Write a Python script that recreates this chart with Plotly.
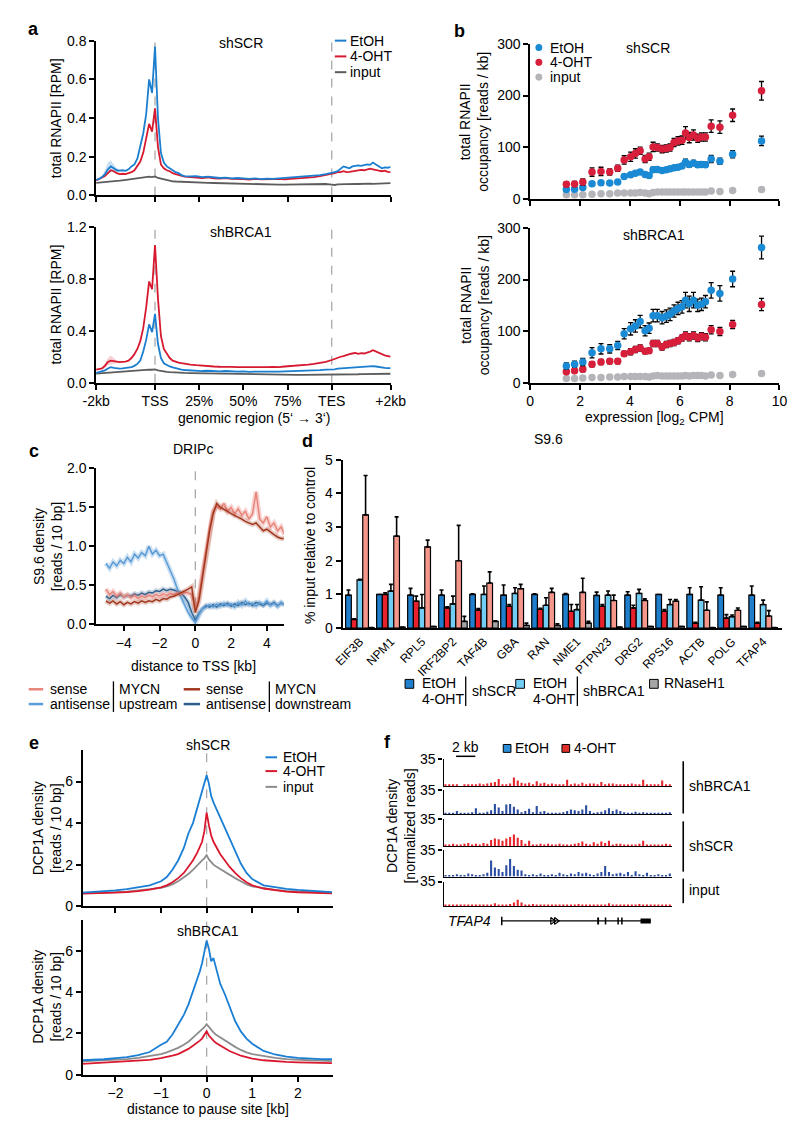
import plotly.graph_objects as go

W, H = 800, 1124
FONT = "Liberation Sans, Arial, Helvetica, sans-serif"
FS = 14

# ================= DATA =================
# ---- panel a: RNAPII metagene (x: -2kb=0, TSS=20, TES=80, +2kb=100)
a_x = list(range(0, 31)) + list(range(32, 79, 2)) + list(range(80, 101))
a_tickvals = [0, 20, 35, 50, 65, 80, 100]
a_ticktext = ["-2kb", "TSS", "25%", "50%", "75%", "TES", "+2kb"]
a_marks = [20, 80]
a_scr_etoh = [0.080, 0.085, 0.095, 0.11, 0.135, 0.15, 0.14, 0.13, 0.128, 0.13,
              0.127, 0.135, 0.15, 0.16, 0.19, 0.25, 0.32, 0.42, 0.60, 0.53,
              0.77, 0.40, 0.22, 0.17, 0.15, 0.14, 0.13, 0.12, 0.115, 0.105, 0.10,
              0.098, 0.10, 0.095, 0.097, 0.093, 0.09, 0.092, 0.088, 0.09, 0.087, 0.085, 0.088,
              0.084, 0.086, 0.085, 0.088, 0.09, 0.092, 0.095, 0.097, 0.10, 0.102, 0.105, 0.11,
              0.115, 0.12, 0.125, 0.14, 0.15, 0.145, 0.14, 0.15, 0.152, 0.155, 0.153,
              0.157, 0.16, 0.158, 0.17, 0.16, 0.15, 0.14, 0.145, 0.143, 0.148]
a_scr_4oht = [0.078, 0.085, 0.09, 0.10, 0.115, 0.13, 0.125, 0.115, 0.11, 0.112,
              0.11, 0.115, 0.12, 0.13, 0.15, 0.175, 0.22, 0.29, 0.37, 0.33,
              0.45, 0.25, 0.16, 0.14, 0.13, 0.125, 0.115, 0.11, 0.105, 0.1, 0.097,
              0.095, 0.092, 0.09, 0.093, 0.088, 0.087, 0.09, 0.085, 0.086, 0.084, 0.082, 0.085,
              0.083, 0.082, 0.084, 0.085, 0.083, 0.086, 0.088, 0.09, 0.092, 0.095, 0.1, 0.105,
              0.11, 0.115, 0.12, 0.12, 0.125, 0.12, 0.122, 0.125, 0.128, 0.13, 0.132,
              0.13, 0.135, 0.138, 0.135, 0.13, 0.128, 0.125, 0.128, 0.122, 0.12]
a_scr_input = [0.065, 0.066, 0.067, 0.068, 0.07, 0.071, 0.072, 0.074, 0.076, 0.078,
               0.08, 0.082, 0.085, 0.088, 0.09, 0.093, 0.095, 0.096, 0.097, 0.095,
               0.098, 0.09, 0.086, 0.082, 0.078, 0.075, 0.073, 0.072, 0.071, 0.07, 0.069,
               0.068, 0.067, 0.066, 0.065, 0.064, 0.063, 0.062, 0.061, 0.06, 0.06, 0.059, 0.058,
               0.058, 0.057, 0.057, 0.056, 0.056, 0.057, 0.057, 0.058, 0.058, 0.059, 0.058, 0.059,
               0.056, 0.054, 0.057, 0.058, 0.058, 0.059, 0.058, 0.059, 0.06, 0.059, 0.06,
               0.06, 0.06, 0.061, 0.06, 0.061, 0.062, 0.062, 0.063, 0.063, 0.064]
a_brca_etoh = [0.075, 0.08, 0.085, 0.095, 0.11, 0.12, 0.115, 0.11, 0.108, 0.11,
               0.112, 0.115, 0.12, 0.13, 0.145, 0.17, 0.24, 0.33, 0.45, 0.39,
               0.53, 0.30, 0.19, 0.15, 0.135, 0.125, 0.118, 0.11, 0.105, 0.1, 0.098,
               0.095, 0.093, 0.09, 0.092, 0.088, 0.087, 0.09, 0.086, 0.085, 0.088, 0.084, 0.086,
               0.085, 0.083, 0.086, 0.085, 0.087, 0.088, 0.09, 0.092, 0.093, 0.095, 0.097, 0.1,
               0.1, 0.103, 0.108, 0.11, 0.112, 0.11, 0.113, 0.115, 0.118, 0.12, 0.122,
               0.125, 0.128, 0.13, 0.128, 0.125, 0.12, 0.118, 0.115, 0.113, 0.112]
a_brca_4oht = [0.10, 0.105, 0.11, 0.13, 0.16, 0.17, 0.165, 0.16, 0.158, 0.16,
               0.162, 0.17, 0.19, 0.22, 0.26, 0.32, 0.42, 0.58, 0.78, 0.72,
               1.06, 0.65, 0.36, 0.26, 0.22, 0.19, 0.17, 0.16, 0.155, 0.15, 0.145,
               0.14, 0.135, 0.13, 0.128, 0.125, 0.123, 0.12, 0.122, 0.12, 0.118, 0.12, 0.12,
               0.118, 0.12, 0.122, 0.12, 0.125, 0.128, 0.13, 0.135, 0.14, 0.145, 0.15, 0.16,
               0.175, 0.185, 0.19, 0.2, 0.205, 0.215, 0.22, 0.225, 0.23, 0.222, 0.228,
               0.225, 0.23, 0.24, 0.25, 0.24, 0.225, 0.215, 0.21, 0.205, 0.2]
a_brca_input = [0.07, 0.072, 0.074, 0.076, 0.078, 0.08, 0.082, 0.084, 0.085, 0.087,
                0.088, 0.09, 0.092, 0.094, 0.096, 0.098, 0.099, 0.1, 0.101, 0.1,
                0.102, 0.095, 0.09, 0.087, 0.084, 0.082, 0.08, 0.078, 0.077, 0.076, 0.075,
                0.074, 0.073, 0.072, 0.071, 0.07, 0.069, 0.068, 0.067, 0.066, 0.066, 0.065, 0.064,
                0.064, 0.063, 0.063, 0.062, 0.062, 0.062, 0.061, 0.061, 0.061, 0.06, 0.06, 0.061,
                0.06, 0.061, 0.062, 0.062, 0.063, 0.063, 0.064, 0.064, 0.065, 0.065, 0.066,
                0.066, 0.066, 0.067, 0.067, 0.067, 0.068, 0.068, 0.068, 0.069, 0.069]
a_band_x = [2, 3, 4, 5, 6, 7, 8]
a_scr_etoh_hi = [0.10, 0.13, 0.17, 0.18, 0.16, 0.14, 0.135]
a_scr_etoh_lo = [0.09, 0.10, 0.11, 0.12, 0.12, 0.12, 0.12]
a_brca_4oht_hi = [0.12, 0.15, 0.19, 0.21, 0.19, 0.17, 0.165]
a_brca_4oht_lo = [0.10, 0.115, 0.135, 0.14, 0.145, 0.15, 0.152]

# ---- panel b: occupancy vs expression
b_x = [1.45, 1.78, 2.11, 2.48, 2.84, 3.19, 3.51, 3.77, 4.03, 4.22, 4.41, 4.61, 4.77, 4.93, 5.10,
       5.29, 5.46, 5.61, 5.77, 5.93, 6.09, 6.23, 6.38, 6.55, 6.72, 6.87, 7.03, 7.26, 7.61, 8.12, 9.28]
b_scr_4oht = [29, 29.5, 33.5, 52.5, 53.8, 52.5, 60, 76, 82, 88.5, 93.6, 77.8, 82, 101, 100,
              96.8, 98, 100, 109.4, 112.6, 114, 128, 119, 124, 117.6, 120, 120, 141, 139, 162, 209]
b_scr_etoh = [19, 19.6, 22.8, 30, 32, 31.5, 33.5, 44, 47.4, 50.5, 52.5, 48, 46, 57, 57.6,
              55.7, 57, 59, 61, 62, 64, 71.5, 67, 69.8, 66.6, 67, 66.6, 77.8, 73.3, 87, 112.6]
b_scr_input = [9, 9, 9, 10, 11, 11, 12, 12, 12, 12, 13, 12, 11, 13, 14,
               14, 14, 14, 14, 14, 14, 14, 14, 14, 14, 14, 14, 16, 15, 17, 19]
b_brca_etoh = [32.5, 35.7, 40, 58, 65.6, 65.6, 72, 95, 104.5, 110, 118.5, 100.7, 105.7, 130, 130,
               126, 129, 132.5, 139, 144, 147, 160, 153, 160, 150, 152, 157, 179, 173, 201, 262]
b_brca_4oht = [21, 23, 26, 35.7, 40, 41.4, 41.4, 56, 59.9, 64.5, 67.5, 61, 62, 75.8, 75.8,
               69.4, 74, 75.8, 78, 81.5, 86.6, 91.7, 88, 91.7, 86.6, 90, 88, 102.6, 99.4, 113, 151.6]
b_brca_input = [8, 8, 9, 10, 10, 11, 11, 12, 12, 12, 12, 12, 11, 13, 14,
                13, 13, 13, 13, 13, 13, 14, 13, 14, 14, 14, 13, 15, 14, 16, 18]
b_scr_4oht_err = [5, 5, 6, 8, 8, 6, 6, 8, 9, 9, 7, 7, 7, 9, 7, 7, 7, 7, 8, 8, 8, 12, 10, 10, 8, 8, 8, 12, 12, 12, 18]
b_scr_etoh_err = [3, 3, 4, 4, 4, 3, 3, 4, 4, 4, 4, 4, 4, 5, 4, 4, 4, 4, 4, 4, 4, 6, 5, 5, 5, 5, 5, 7, 6, 7, 9]
b_brca_etoh_err = [6, 6, 7, 10, 10, 8, 8, 10, 12, 12, 12, 10, 10, 12, 12, 12, 12, 12, 12, 12, 12, 15, 15, 15, 12, 12, 12, 15, 15, 15, 22]
b_brca_4oht_err = [4, 4, 5, 5, 5, 5, 5, 5, 6, 6, 6, 5, 5, 6, 6, 6, 6, 6, 6, 6, 6, 7, 7, 7, 7, 7, 7, 8, 8, 8, 12]

# ---- panel c: DRIPc (x in kb, step 0.2 from -5 to 5)
c_x = [round(-5 + 0.2 * i, 1) for i in range(51)]
c_as_up = [0.78, 0.72, 0.80, 0.75, 0.82, 0.78, 0.86, 0.80, 0.90, 0.85,
           0.92, 0.88, 1.00, 0.90, 0.95, 0.88, 0.90, 0.80, 0.70, 0.58,
           0.45, 0.35, 0.25, 0.15, 0.08, 0.02, 0.12, 0.20, 0.22, 0.25,
           0.22, 0.26, 0.23, 0.27, 0.24, 0.26, 0.22, 0.28, 0.24, 0.30,
           0.25, 0.27, 0.23, 0.28, 0.25, 0.30, 0.24, 0.27, 0.23, 0.28, 0.25]
c_as_down = [0.36, 0.33, 0.37, 0.34, 0.38, 0.35, 0.37, 0.36, 0.39, 0.37,
             0.40, 0.38, 0.41, 0.40, 0.43, 0.42, 0.45, 0.43, 0.45, 0.44,
             0.42, 0.40, 0.35, 0.28, 0.15, 0.05, 0.14, 0.20, 0.24, 0.22,
             0.25, 0.22, 0.26, 0.24, 0.27, 0.23, 0.26, 0.24, 0.28, 0.25,
             0.27, 0.24, 0.28, 0.26, 0.24, 0.27, 0.25, 0.28, 0.24, 0.27, 0.25]
c_s_up = [0.45, 0.38, 0.42, 0.36, 0.40, 0.35, 0.38, 0.34, 0.37, 0.33,
          0.36, 0.34, 0.37, 0.35, 0.38, 0.36, 0.39, 0.37, 0.40, 0.38,
          0.40, 0.39, 0.41, 0.40, 0.38, 0.20, 0.35, 0.65, 0.95, 1.25,
          1.45, 1.52, 1.48, 1.55, 1.45, 1.50, 1.42, 1.48, 1.40, 1.45,
          1.35, 1.42, 1.70, 1.35, 1.30, 1.38, 1.25, 1.30, 1.20, 1.25, 1.15]
c_s_down = [0.30, 0.27, 0.30, 0.26, 0.29, 0.25, 0.28, 0.26, 0.29, 0.27,
            0.30, 0.28, 0.30, 0.29, 0.32, 0.30, 0.33, 0.32, 0.35, 0.36,
            0.38, 0.40, 0.42, 0.45, 0.48, 0.15, 0.30, 0.60, 0.90, 1.20,
            1.42, 1.55, 1.50, 1.48, 1.45, 1.42, 1.40, 1.38, 1.35, 1.32,
            1.30, 1.28, 1.30, 1.25, 1.20, 1.22, 1.18, 1.15, 1.12, 1.10, 1.10]

# ---- panel d: S9.6 DRIP-qPCR
d_genes = ["EIF3B", "NPM1", "RPL5", "IRF2BP2", "TAF4B", "GBA", "RAN", "NME1",
           "PTPN23", "DRG2", "RPS16", "ACTB", "POLG", "TFAP4"]
d_scr_etoh = [0.98, 1.0, 0.98, 0.98, 1.0, 0.98, 1.0, 1.0, 0.97, 0.98, 1.0, 1.0, 0.98, 0.98]
d_scr_4oht = [0.26, 1.0, 0.8, 0.6, 0.53, 0.65, 0.56, 0.5, 0.65, 0.6, 0.5, 0.15, 0.3, 0.15]
d_brca_etoh = [1.43, 1.1, 0.6, 0.72, 1.0, 1.03, 0.68, 0.55, 0.98, 1.03, 0.7, 0.83, 0.34, 0.7]
d_brca_4oht = [3.36, 2.73, 2.41, 2.0, 1.34, 1.17, 1.06, 1.06, 0.82, 0.82, 0.8, 0.53, 0.53, 0.36]
d_rnaseh1 = [0.02, 0.03, 0.05, 0.2, 0.2, 0.08, 0.08, 0.15, 0.03, 0.05, 0.05, 0.02, 0.05, 0.02]
d_scr_etoh_err = [0.15, 0.0, 0.2, 0.15, 0.02, 0.3, 0.02, 0.03, 0.1, 0.1, 0.0, 0.2, 0.22, 0.27]
d_scr_4oht_err = [0.02, 0.05, 0.15, 0.03, 0.05, 0.05, 0.03, 0.2, 0.05, 0.08, 0.05, 0.02, 0.1, 0.02]
d_brca_etoh_err = [0.02, 0.2, 0.4, 0.23, 0.25, 0.17, 0.22, 0.15, 0.12, 0.12, 0.15, 0.4, 0.05, 0.13]
d_brca_4oht_err = [1.17, 0.57, 0.2, 1.05, 0.33, 0.13, 0.12, 0.42, 0.16, 0.05, 0.05, 0.25, 0.07, 0.16]
d_rnaseh1_err = [0.0, 0.0, 0.0, 0.15, 0.02, 0.07, 0.05, 0.05, 0.0, 0.0, 0.0, 0.0, 0.0, 0.0]

# ---- panel e: DCP1A around pause site
e_x = [-2.75, -2.5, -2.25, -2, -1.75, -1.5, -1.25, -1, -0.875, -0.75, -0.625, -0.5, -0.4, -0.3,
       -0.2, -0.15, -0.1, -0.05, 0, 0.05, 0.1, 0.15, 0.2, 0.3, 0.4, 0.5, 0.625, 0.75, 0.875, 1,
       1.25, 1.5, 1.75, 2, 2.25, 2.5, 2.75]
e_scr_etoh = [0.65, 0.68, 0.72, 0.76, 0.82, 0.9, 1.0, 1.2, 1.4, 1.75, 2.2, 2.8, 3.5, 4.0,
              4.8, 5.1, 5.5, 5.9, 6.3, 5.9, 5.3, 5.0, 4.75, 4.3, 3.8, 3.3, 2.6, 2.05, 1.6, 1.3,
              1.0, 0.9, 0.83, 0.78, 0.74, 0.7, 0.68]
e_scr_4oht = [0.6, 0.61, 0.63, 0.65, 0.68, 0.72, 0.8, 0.9, 1.0, 1.15, 1.35, 1.6, 1.9, 2.2,
              2.6, 2.85, 3.1, 3.6, 4.5, 3.9, 3.4, 3.1, 2.9, 2.5, 2.2, 1.9, 1.6, 1.35, 1.15, 1.0,
              0.85, 0.76, 0.7, 0.67, 0.65, 0.63, 0.62]
e_scr_input = [0.62, 0.63, 0.65, 0.68, 0.7, 0.75, 0.8, 0.88, 0.95, 1.05, 1.2, 1.38, 1.55, 1.75,
               2.0, 2.1, 2.2, 2.3, 2.45, 2.25, 2.1, 2.0, 1.92, 1.78, 1.65, 1.52, 1.35, 1.2, 1.05, 0.95,
               0.85, 0.78, 0.73, 0.7, 0.68, 0.66, 0.65]
e_brca_etoh = [0.7, 0.72, 0.75, 0.8, 0.85, 0.95, 1.1, 1.45, 1.6, 1.95, 2.4, 2.9, 3.4, 4.0,
               4.6, 5.0, 5.4, 5.9, 6.5, 6.1, 5.5, 5.65, 5.2, 4.4, 3.9, 3.3, 2.6, 2.1, 1.75, 1.5,
               1.15, 0.98, 0.88, 0.82, 0.78, 0.76, 0.75]
e_brca_4oht = [0.52, 0.55, 0.57, 0.6, 0.63, 0.67, 0.72, 0.8, 0.85, 0.92, 1.0, 1.12, 1.25, 1.4,
               1.55, 1.65, 1.75, 1.9, 2.1, 1.9, 1.75, 1.65, 1.55, 1.4, 1.28, 1.15, 1.02, 0.92, 0.85, 0.78,
               0.7, 0.65, 0.62, 0.6, 0.58, 0.57, 0.56]
e_brca_input = [0.65, 0.67, 0.69, 0.72, 0.76, 0.82, 0.9, 1.0, 1.08, 1.18, 1.3, 1.45, 1.6, 1.8,
                2.0, 2.1, 2.2, 2.3, 2.45, 2.3, 2.15, 2.05, 1.95, 1.8, 1.65, 1.52, 1.35, 1.2, 1.08, 1.0,
                0.9, 0.82, 0.76, 0.72, 0.7, 0.68, 0.66]

# ---- panel f: DCP1A tracks at TFAP4 (60 bins)
f_bins = [i + 0.5 for i in range(60)]
f_brca_4oht = [1, 2, 1, 1, 0, 2, 2, 1, 2, 3,
               2, 3, 4, 5, 9, 2, 1, 3, 11, 7,
               4, 3, 4, 2, 6, 3, 4, 2, 3, 1,
               2, 2, 8, 2, 3, 2, 4, 2, 3, 3,
               2, 5, 2, 3, 3, 1, 2, 2, 1, 3,
               2, 2, 8, 1, 2, 1, 1, 7, 1, 1]
f_brca_etoh = [1, 2, 1, 5, 1, 1, 2, 3, 9, 2,
               1, 4, 6, 15, 10, 5, 14, 15, 11, 7,
               3, 5, 8, 3, 12, 4, 5, 2, 1, 1,
               2, 3, 5, 7, 6, 5, 7, 13, 5, 2,
               3, 4, 6, 9, 5, 7, 5, 3, 1, 2,
               4, 2, 3, 1, 1, 2, 1, 1, 2, 3]
f_scr_4oht = [2, 1, 3, 2, 1, 3, 4, 2, 3, 2,
              4, 3, 8, 10, 9, 7, 10, 12, 15, 11,
              8, 3, 7, 2, 2, 3, 2, 3, 1, 2,
              3, 2, 1, 2, 3, 4, 6, 3, 2, 5,
              3, 6, 4, 7, 2, 3, 3, 2, 1, 2,
              2, 3, 7, 2, 1, 2, 1, 2, 3, 1]
f_scr_etoh = [2, 1, 1, 3, 1, 2, 4, 3, 2, 1,
              3, 5, 21, 12, 10, 6, 15, 23, 14, 9,
              8, 3, 2, 3, 2, 4, 1, 2, 3, 2,
              5, 3, 2, 4, 3, 6, 4, 5, 3, 2,
              4, 6, 14, 6, 3, 4, 5, 3, 6, 2,
              7, 3, 2, 5, 1, 2, 3, 2, 1, 4]
f_input = [1, 2, 1, 1, 2, 1, 1, 2, 1, 1,
           2, 1, 2, 4, 2, 1, 2, 3, 5, 9,
           5, 2, 1, 3, 1, 2, 1, 1, 2, 1,
           1, 2, 1, 1, 2, 3, 1, 2, 1, 1,
           2, 2, 1, 4, 2, 1, 1, 2, 1, 2,
           1, 3, 1, 2, 1, 1, 2, 1, 1, 1]
f_gene_span = [15.3, 54.5]
f_exons = [[40.4, 40.9], [42.4, 42.8], [45.7, 46.1], [46.7, 47.1], [51.8, 54.5]]
f_chevron_x = [28.6, 29.6]

# ================= STYLE =================
A_BLUE, A_RED, A_GREY = "#1b7ecf", "#d6192f", "#5c5c5c"
B_BLUE, B_RED, B_GREY = "#1a8ad4", "#d71f3b", "#b5b5b9"
C_SUP, C_SAS, C_DUP, C_DAS = "#e8857a", "#5b9bd6", "#a3381f", "#2c5e8c"
D_COLS = ["#1f7fcc", "#e8212d", "#72cdf4", "#f5978a", "#a5a5a5"]
E_BLUE, E_RED, E_GREY = "#1a7fd4", "#d9182e", "#8c8c8c"
F_RED, F_BLUE = "#e8252b", "#2b4ea2"


def px(x):
    return x / W


def py(y):
    return 1 - y / H


layout = dict(width=W, height=H, margin=dict(l=0, r=0, t=0, b=0),
              paper_bgcolor="white", plot_bgcolor="white", showlegend=False,
              font=dict(family=FONT, size=FS, color="black"),
              barmode="group", bargap=0.08, bargroupgap=0.0)

BASE = dict(showline=True, linecolor="black", linewidth=1.6, ticks="outside", ticklen=5,
            tickwidth=1.6, tickcolor="black", showgrid=False, zeroline=False,
            tickfont=dict(size=FS, color="black", family=FONT), fixedrange=True)


def make_axes(n, x0, x1, ytop, ybot, xkw=None, ykw=None):
    xa = "xaxis" if n == 1 else f"xaxis{n}"
    ya = "yaxis" if n == 1 else f"yaxis{n}"
    xr = "x" if n == 1 else f"x{n}"
    yr = "y" if n == 1 else f"y{n}"
    xd = dict(BASE)
    xd.update(domain=[px(x0), px(x1)], anchor=yr)
    xd.update(xkw or {})
    yd = dict(BASE)
    yd.update(domain=[py(ybot), py(ytop)], anchor=xr)
    yd.update(ykw or {})
    layout[xa] = xd
    layout[ya] = yd
    return xr, yr


shapes, annotations = [], []


def text(x, y, s, size=FS, xanchor="center", yanchor="middle", angle=0, bold=False):
    annotations.append(dict(x=px(x), y=py(y), xref="paper", yref="paper",
                            text=f"<b>{s}</b>" if bold else s, showarrow=False,
                            xanchor=xanchor, yanchor=yanchor, textangle=angle,
                            font=dict(size=size, color="black", family=FONT)))


def hline(x0, x1, y, color, width=2.0):
    shapes.append(dict(type="line", xref="paper", yref="paper", x0=px(x0), x1=px(x1),
                       y0=py(y), y1=py(y), line=dict(color=color, width=width)))


def vline(x, y0, y1, color="black", width=1.6):
    shapes.append(dict(type="line", xref="paper", yref="paper", x0=px(x), x1=px(x),
                       y0=py(y0), y1=py(y1), line=dict(color=color, width=width)))


def rect(x0, y0, x1, y1, fill):
    shapes.append(dict(type="rect", xref="paper", yref="paper", x0=px(x0), x1=px(x1),
                       y0=py(y1), y1=py(y0), fillcolor=fill, line=dict(color="black", width=1)))


def circle(cx, cy, r, fill):
    shapes.append(dict(type="circle", xref="paper", yref="paper", x0=px(cx - r), x1=px(cx + r),
                       y0=py(cy + r), y1=py(cy - r), fillcolor=fill, line=dict(width=0)))


def dashed(xref, yref, xval):
    shapes.append(dict(type="line", xref=xref, yref=yref + " domain", x0=xval, x1=xval, y0=0, y1=1,
                       line=dict(color="#a8a8a8", width=1.3, dash="dash"), layer="below"))


fig = go.Figure()

# ================= PANEL a =================
xa1, ya1 = make_axes(1, 77, 383, 25, 182,
                     dict(range=[0, 100], tickvals=a_tickvals, showticklabels=False),
                     dict(range=[0, 0.8], tickvals=[0, 0.2, 0.4, 0.6, 0.8], tickformat=".1f"))
xa2, ya2 = make_axes(2, 77, 383, 214, 372,
                     dict(range=[0, 100], tickvals=a_tickvals, ticktext=a_ticktext),
                     dict(range=[0, 1.2], tickvals=[0, 0.4, 0.8, 1.2], tickformat=".1f"))
for xr, yr in [(xa1, ya1), (xa2, ya2)]:
    for m in a_marks:
        dashed(xr, yr, m)

fig.add_trace(go.Scatter(x=a_band_x + a_band_x[::-1], y=a_scr_etoh_hi + a_scr_etoh_lo[::-1],
                         fill="toself", fillcolor="rgba(27,126,207,0.25)", line=dict(width=0),
                         mode="lines", xaxis=xa1, yaxis=ya1, hoverinfo="skip"))
fig.add_trace(go.Scatter(x=a_band_x + a_band_x[::-1], y=a_brca_4oht_hi + a_brca_4oht_lo[::-1],
                         fill="toself", fillcolor="rgba(214,25,47,0.2)", line=dict(width=0),
                         mode="lines", xaxis=xa2, yaxis=ya2, hoverinfo="skip"))
for ys, col, xr, yr in [(a_scr_input, A_GREY, xa1, ya1), (a_scr_4oht, A_RED, xa1, ya1),
                        (a_scr_etoh, A_BLUE, xa1, ya1),
                        (a_brca_input, A_GREY, xa2, ya2), (a_brca_etoh, A_BLUE, xa2, ya2),
                        (a_brca_4oht, A_RED, xa2, ya2)]:
    fig.add_trace(go.Scatter(x=a_x, y=ys, mode="lines", line=dict(color=col, width=1.8),
                             xaxis=xr, yaxis=yr))

text(12, 13, "a", size=18, bold=True)
text(228, 27, "shSCR")
text(228, 219, "shBRCA1")
text(35, 104, "total RNAPII [RPM]", angle=-90)
text(35, 293, "total RNAPII [RPM]", angle=-90)
text(242, 408, "genomic region (5‘ → 3‘)")
for yy, col, lab in [(25, A_BLUE, "EtOH"), (41, A_RED, "4-OHT"), (57, A_GREY, "input")]:
    hline(325, 337, yy, col, 2)
    text(339, yy, lab, xanchor="left")

# ================= PANEL b =================
xb1, yb1 = make_axes(3, 528, 787, 28, 186,
                     dict(range=[0, 10], tickvals=[0, 2, 4, 6, 8, 10], showticklabels=False),
                     dict(range=[0, 300], tickvals=[0, 100, 200, 300]))
xb2, yb2 = make_axes(4, 528, 787, 215, 372,
                     dict(range=[0, 10], tickvals=[0, 2, 4, 6, 8, 10]),
                     dict(range=[0, 300], tickvals=[0, 100, 200, 300]))


def pts(ys, col, xr, yr, err=None):
    kw = {}
    if err is not None:
        kw["error_y"] = dict(type="data", array=err, color="black", thickness=1.3, width=2.5)
    fig.add_trace(go.Scatter(x=b_x, y=ys, mode="markers", marker=dict(color=col, size=7.5),
                             xaxis=xr, yaxis=yr, cliponaxis=False, **kw))


pts(b_scr_input, B_GREY, xb1, yb1)
pts(b_scr_etoh, B_BLUE, xb1, yb1, b_scr_etoh_err)
pts(b_scr_4oht, B_RED, xb1, yb1, b_scr_4oht_err)
pts(b_brca_input, B_GREY, xb2, yb2)
pts(b_brca_4oht, B_RED, xb2, yb2, b_brca_4oht_err)
pts(b_brca_etoh, B_BLUE, xb2, yb2, b_brca_etoh_err)

text(455, 15, "b", size=18, bold=True)
text(650, 32, "shSCR")
text(657, 222, "shBRCA1")
text(470, 107, "total RNAPII<br>occupancy [reads / kb]", angle=-90)
text(470, 293, "total RNAPII<br>occupancy [reads / kb]", angle=-90)
text(657, 408, "expression [log<sub>2</sub> CPM]")
for yy, col, lab in [(32, B_BLUE, "EtOH"), (47, B_RED, "4-OHT"), (62, B_GREY, "input")]:
    circle(537, yy, 3.6, col)
    text(547, yy, lab, xanchor="left")

# ================= PANEL c =================
xc, yc = make_axes(5, 77, 272, 459, 617,
                   dict(range=[-5.55, 4.95], tickvals=[-4, -2, 0, 2, 4]),
                   dict(range=[0, 2], tickvals=[0, 0.5, 1, 1.5, 2], tickformat=".1f"))
dashed(xc, yc, 0)
for ys, col, rgba in [(c_as_down, C_DAS, "rgba(44,94,140,0.25)"), (c_as_up, C_SAS, "rgba(91,155,214,0.3)"),
                      (c_s_up, C_SUP, "rgba(232,133,122,0.35)"), (c_s_down, C_DUP, "rgba(163,56,31,0.25)")]:
    fig.add_trace(go.Scatter(x=c_x, y=ys, mode="lines", line=dict(color=rgba, width=5),
                             xaxis=xc, yaxis=yc, hoverinfo="skip"))
    fig.add_trace(go.Scatter(x=c_x, y=ys, mode="lines", line=dict(color=col, width=1.5),
                             xaxis=xc, yaxis=yc))

text(12, 441, "c", size=18, bold=True)
text(178, 439, "DRIPc")
text(27, 538, "S9.6 density<br>[reads / 10 bp]", angle=-90)
text(178, 659, "distance to TSS [kb]")
hline(7, 22, 683, C_SUP, 2.5)
text(27, 683, "sense", xanchor="left")
hline(7, 22, 698, C_SAS, 2.5)
text(27, 698, "antisense", xanchor="left")
vline(95, 675, 706, "black", 1.3)
text(99, 683, "MYCN", xanchor="left")
text(99, 698, "upstream", xanchor="left")
hline(168, 185, 683, C_DUP, 2.5)
text(189, 683, "sense", xanchor="left")
hline(168, 185, 698, C_DAS, 2.5)
text(189, 698, "antisense", xanchor="left")
vline(257, 675, 706, "black", 1.3)
text(261, 683, "MYCN", xanchor="left")
text(261, 698, "downstream", xanchor="left")

# ================= PANEL d =================
xd, yd = make_axes(6, 333, 790, 450, 621,
                   dict(type="category", range=[-0.56, 13.62], ticks="", tickangle=-45,
                        tickfont=dict(size=12, color="black", family=FONT)),
                   dict(range=[0, 5], tickvals=[0, 1, 2, 3, 4, 5]))
for vals, err, col in zip([d_scr_etoh, d_scr_4oht, d_brca_etoh, d_brca_4oht, d_rnaseh1],
                          [d_scr_etoh_err, d_scr_4oht_err, d_brca_etoh_err, d_brca_4oht_err, d_rnaseh1_err],
                          D_COLS):
    fig.add_trace(go.Bar(x=d_genes, y=vals, marker=dict(color=col, line=dict(color="black", width=1.2)),
                         error_y=dict(type="data", symmetric=False, array=err, arrayminus=[0] * len(err),
                                      color="black", thickness=1.6, width=2),
                         xaxis=xd, yaxis=yd))

text(297, 431, "d", size=18, bold=True)
text(547, 429, "S9.6")
text(300, 537, "% input relative to control", angle=-90)
LY = 677
rect(398, LY - 4, 407, LY + 5, D_COLS[0])
text(413, LY, "EtOH", xanchor="left")
text(413, LY + 16, "4-OHT", xanchor="left")
vline(461, LY - 7, LY + 23, "black", 1.3)
text(465, LY + 8, "shSCR", xanchor="left")
rect(513, LY - 4, 522, LY + 5, D_COLS[2])
text(529, LY, "EtOH", xanchor="left")
text(529, LY + 16, "4-OHT", xanchor="left")
vline(577, LY - 7, LY + 23, "black", 1.3)
text(581, LY + 8, "shBRCA1", xanchor="left")
rect(652, LY - 4, 661, LY + 5, D_COLS[4])
text(665, LY, "RNaseH1", xanchor="left")

# ================= PANEL e =================
xe1, ye1 = make_axes(7, 63, 323, 745, 903,
                     dict(range=[-2.72, 2.77], tickvals=[-2, -1, 0, 1, 2], showticklabels=False),
                     dict(range=[0, 7.5], tickvals=[0, 2, 4, 6]))
xe2, ye2 = make_axes(8, 63, 323, 917, 1074,
                     dict(range=[-2.72, 2.77], tickvals=[-2, -1, 0, 1, 2]),
                     dict(range=[0, 7.5], tickvals=[0, 2, 4, 6]))
dashed(xe1, ye1, 0)
dashed(xe2, ye2, 0)
for ys, col, xr, yr in [(e_scr_input, E_GREY, xe1, ye1), (e_scr_4oht, E_RED, xe1, ye1),
                        (e_scr_etoh, E_BLUE, xe1, ye1),
                        (e_brca_input, E_GREY, xe2, ye2), (e_brca_4oht, E_RED, xe2, ye2),
                        (e_brca_etoh, E_BLUE, xe2, ye2)]:
    fig.add_trace(go.Scatter(x=e_x, y=ys, mode="lines", line=dict(color=col, width=1.8),
                             xaxis=xr, yaxis=yr))

text(12, 738, "e", size=18, bold=True)
text(193, 740, "shSCR")
text(193, 928, "shBRCA1")
text(26, 824, "DCP1A density<br>[reads / 10 bp]", angle=-90)
text(26, 995, "DCP1A density<br>[reads / 10 bp]", angle=-90)
text(193, 1109, "distance to pause site [kb]")
for yy, col, lab in [(752, E_BLUE, "EtOH"), (766, E_RED, "4-OHT"), (782, E_GREY, "input")]:
    hline(253, 265, yy, col, 2)
    text(269, yy, lab, xanchor="left")

# ================= PANEL f =================
tracks = [(754, 781, f_brca_4oht, F_RED), (785, 810, f_brca_etoh, F_BLUE),
          (815, 842, f_scr_4oht, F_RED), (846, 873, f_scr_etoh, F_BLUE),
          (878, 903, f_input, F_RED)]
for i, (top, bot, vals, col) in enumerate(tracks):
    xr, yr = make_axes(9 + i, 438, 675, top, bot,
                       dict(range=[0, 60], showticklabels=False, ticks="", linewidth=1.3),
                       dict(range=[0, 35], tickvals=[35], ticklen=4, linewidth=1.3,
                            tickfont=dict(size=14, color="black", family=FONT)))
    fig.add_trace(go.Bar(x=f_bins, y=vals, width=0.55, marker=dict(color=col, line=dict(width=0)),
                         xaxis=xr, yaxis=yr))

xg, yg = make_axes(14, 438, 675, 907, 929,
                   dict(range=[0, 60], visible=False), dict(range=[-1, 1], visible=False))
fig.add_trace(go.Scatter(x=f_gene_span, y=[0, 0], mode="lines", line=dict(color="black", width=1.2),
                         xaxis=xg, yaxis=yg))
fig.add_trace(go.Scatter(x=[f_gene_span[0]], y=[0], mode="markers",
                         marker=dict(symbol="line-ns", size=6, line=dict(color="black", width=1.5)),
                         xaxis=xg, yaxis=yg))
fig.add_trace(go.Scatter(x=f_chevron_x, y=[0, 0], mode="markers",
                         marker=dict(symbol="triangle-right-open", size=6, color="black",
                                     line=dict(color="black", width=1.2)),
                         xaxis=xg, yaxis=yg))
for ex in f_exons:
    w = 5 if ex[1] - ex[0] > 1 else 7
    fig.add_trace(go.Scatter(x=ex, y=[0, 0], mode="lines", line=dict(color="black", width=w),
                             xaxis=xg, yaxis=yg))

text(380, 736, "f", size=18, bold=True)
text(461, 742, "2 kb", xanchor="center")
hline(451, 471, 751, "black", 1.5)
rect(500, 739, 508, 747, "#2a8fd8")
text(510, 743, "EtOH", xanchor="left")
rect(561, 739, 569, 747, "#e0302c")
text(571, 743, "4-OHT", xanchor="left")
text(394, 822, "DCP1A density<br>[normalized reads]", angle=-90)
vline(687, 756, 809)
text(691, 781, "shBRCA1", xanchor="left")
vline(687, 817, 868)
text(691, 842, "shSCR", xanchor="left")
vline(687, 875, 900)
text(691, 887, "input", xanchor="left")
text(440, 918, "<i>TFAP4</i>", xanchor="left")

layout["shapes"] = shapes
layout["annotations"] = annotations
fig.update_layout(**layout)
fig.write_html("out.html")
